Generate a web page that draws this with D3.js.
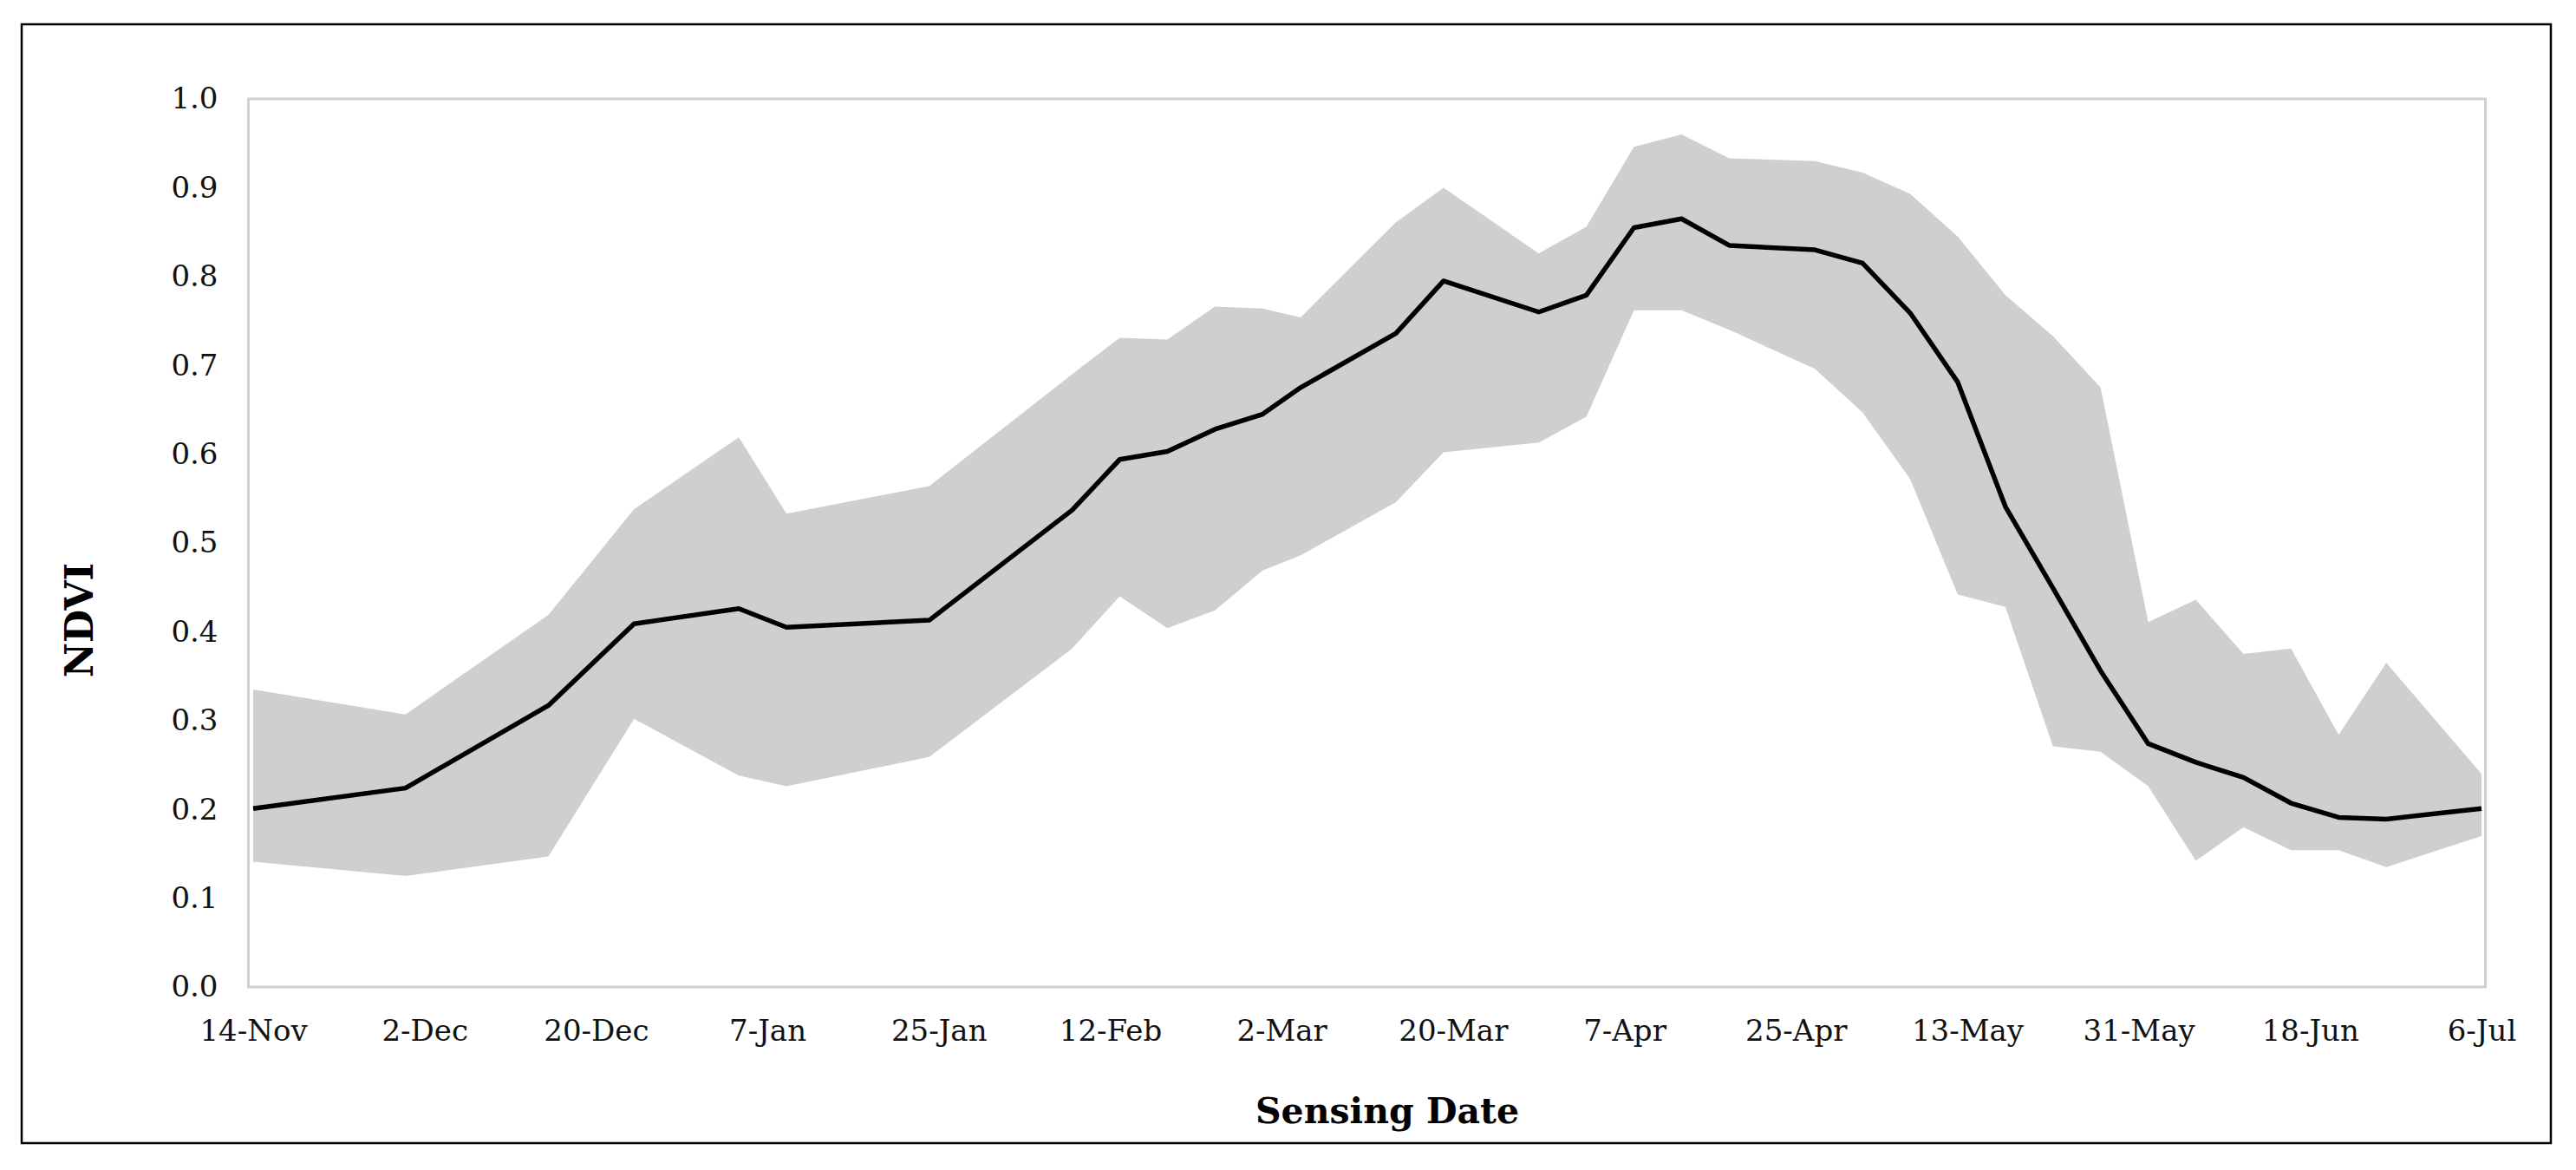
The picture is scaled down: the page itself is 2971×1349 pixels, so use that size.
<!DOCTYPE html>
<html lang="en">
<head>
    <meta charset="UTF-8">
    <title>NDVI by Sensing Date</title>
    <script src="https://cdn.jsdelivr.net/npm/d3@7"></script>
    <style>
        body { margin: 0; background: #fff; }
        .tick text { font-family: "DejaVu Serif", "Liberation Serif", serif; font-size: 34px; fill: #111; }
        .axis-title { font-family: "DejaVu Serif", "Liberation Serif", serif; font-weight: bold; fill: #000; }
    </style>
</head>
<body>
<div id="chart"></div>
<script>
    // sensing dates (one per observation)
    const dates = [
        "2018-11-14", "2018-11-30", "2018-12-15", "2018-12-24", "2019-01-04", "2019-01-09",
        "2019-01-24", "2019-02-08", "2019-02-13", "2019-02-18", "2019-02-23", "2019-02-28",
        "2019-03-04", "2019-03-14", "2019-03-19", "2019-03-29", "2019-04-03", "2019-04-08",
        "2019-04-13", "2019-04-18", "2019-04-27", "2019-05-02", "2019-05-07", "2019-05-12",
        "2019-05-17", "2019-05-22", "2019-05-27", "2019-06-01", "2019-06-06", "2019-06-11",
        "2019-06-16", "2019-06-21", "2019-06-26", "2019-07-06"
    ];
    // mean NDVI
    const meanNdvi = [
        0.201, 0.224, 0.317, 0.409, 0.426, 0.405,
        0.413, 0.537, 0.594, 0.603, 0.628, 0.645,
        0.675, 0.736, 0.795, 0.760, 0.779, 0.855,
        0.865, 0.835, 0.830, 0.815, 0.759, 0.681,
        0.541, 0.449, 0.356, 0.274, 0.253, 0.236,
        0.207, 0.191, 0.189, 0.201
    ];
    // upper edge of the shaded range
    const upperNdvi = [
        0.335, 0.307, 0.419, 0.538, 0.619, 0.533,
        0.564, 0.690, 0.731, 0.729, 0.766, 0.764,
        0.754, 0.861, 0.900, 0.826, 0.856, 0.946,
        0.960, 0.933, 0.930, 0.917, 0.893, 0.845,
        0.779, 0.733, 0.675, 0.411, 0.436, 0.375,
        0.381, 0.284, 0.365, 0.240
    ];
    // lower edge of the shaded range
    const lowerNdvi = [
        0.141, 0.125, 0.147, 0.302, 0.238, 0.226,
        0.259, 0.381, 0.440, 0.404, 0.424, 0.469,
        0.486, 0.546, 0.602, 0.613, 0.642, 0.762,
        0.762, 0.740, 0.696, 0.647, 0.572, 0.442,
        0.428, 0.271, 0.265, 0.226, 0.142, 0.180,
        0.154, 0.154, 0.135, 0.170
    ];
    // x axis tick dates
    const xTicks = [
        "2018-11-14", "2018-12-02", "2018-12-20", "2019-01-07", "2019-01-25", "2019-02-12",
        "2019-03-02", "2019-03-20", "2019-04-07", "2019-04-25", "2019-05-13", "2019-05-31",
        "2019-06-18", "2019-07-06"
    ];
    const yTicks = [0, 0.1, 0.2, 0.3, 0.4, 0.5, 0.6, 0.7, 0.8, 0.9, 1.0];

    const width = 2971;
    const height = 1349;
    const plot = { left: 286.5, right: 2866.5, top: 114, bottom: 1138 };

    const parse = d3.utcParse("%Y-%m-%d");
    const data = dates.map((d, i) => ({
        date: parse(d), mean: meanNdvi[i], hi: upperNdvi[i], lo: lowerNdvi[i]
    }));

    const svg = d3.select("#chart")
        .append("svg")
        .attr("width", width)
        .attr("height", height);

    // outer frame
    svg.append("rect")
        .attr("x", 25).attr("y", 28)
        .attr("width", 2942 - 25).attr("height", 1318 - 28)
        .attr("fill", "#fff")
        .attr("stroke", "#000")
        .attr("stroke-width", 2.5);

    const x = d3.scaleUtc()
        .domain([parse(xTicks[0]), parse(xTicks[xTicks.length - 1])])
        .range([plot.left + 5.5, plot.right - 4.5]);

    const y = d3.scaleLinear()
        .domain([0, 1])
        .range([plot.bottom, plot.top]);

    // shaded range
    const area = d3.area()
        .x(d => x(d.date))
        .y0(d => y(d.lo))
        .y1(d => y(d.hi));

    svg.append("path")
        .datum(data)
        .attr("d", area)
        .attr("fill", "#d0cfd0");

    // mean line
    const line = d3.line()
        .x(d => x(d.date))
        .y(d => y(d.mean));

    svg.append("path")
        .datum(data)
        .attr("d", line)
        .attr("fill", "none")
        .attr("stroke", "#000")
        .attr("stroke-width", 5.5)
        .attr("stroke-linejoin", "round");

    // plot border
    svg.append("rect")
        .attr("x", plot.left).attr("y", plot.top)
        .attr("width", plot.right - plot.left)
        .attr("height", plot.bottom - plot.top)
        .attr("fill", "none")
        .attr("stroke", "#d0d0d0")
        .attr("stroke-width", 3);

    // axes
    const xAxis = d3.axisBottom(x)
        .tickValues(xTicks.map(parse))
        .tickFormat(d3.utcFormat("%-d-%b"))
        .tickSize(0)
        .tickPadding(38);

    svg.append("g")
        .attr("transform", `translate(0,${plot.bottom})`)
        .call(xAxis)
        .call(g => g.select(".domain").remove());

    const yAxis = d3.axisLeft(y)
        .tickValues(yTicks)
        .tickFormat(d3.format(".1f"))
        .tickSize(0)
        .tickPadding(35);

    svg.append("g")
        .attr("transform", `translate(${plot.left},0)`)
        .call(yAxis)
        .call(g => g.select(".domain").remove());

    // axis titles
    svg.append("text")
        .attr("class", "axis-title")
        .attr("transform", "translate(107,715) rotate(-90)")
        .attr("text-anchor", "middle")
        .attr("font-size", 44)
        .text("NDVI");

    svg.append("text")
        .attr("class", "axis-title")
        .attr("x", 1600)
        .attr("y", 1295)
        .attr("text-anchor", "middle")
        .attr("font-size", 41)
        .text("Sensing Date");
</script>
</body>
</html>
